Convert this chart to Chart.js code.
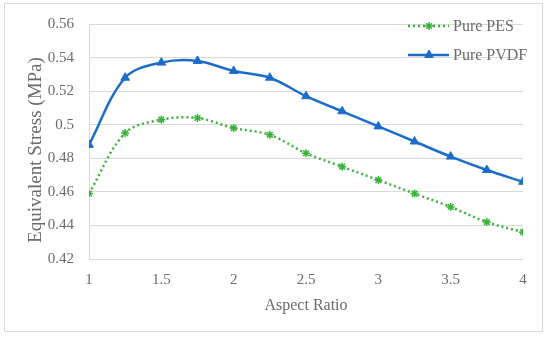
<!DOCTYPE html>
<html>
<head>
<meta charset="utf-8">
<script src="https://cdn.jsdelivr.net/npm/chart.js@4.4.0/dist/chart.umd.min.js"></script>
<style>
  html, body { margin: 0; padding: 0; background: #fff; }
  #wrap { position: relative; width: 550px; height: 339px; }
  #frame { position: absolute; left: 4px; top: 3px; width: 539px; height: 329px; border: 1px solid #d9d9d9; box-sizing: border-box; }
</style>
</head>
<body>
<div id="wrap">
  <div id="frame"></div>
  <canvas id="chart" width="550" height="339"></canvas>
</div>
<script>
// ------------------- DATA -------------------
const aspectRatio = [1, 1.25, 1.5, 1.75, 2, 2.25, 2.5, 2.75, 3, 3.25, 3.5, 3.75, 4];
const purePES  = [0.459, 0.495, 0.503, 0.504, 0.498, 0.494, 0.483, 0.475, 0.467, 0.459, 0.451, 0.442, 0.436];
const purePVDF = [0.488, 0.528, 0.537, 0.538, 0.532, 0.528, 0.517, 0.508, 0.499, 0.490, 0.481, 0.473, 0.466];
const seriesNames = ["Pure PES", "Pure PVDF"];
const yTitle = "Equivalent Stress (MPa)";
const xTitle = "Aspect Ratio";

const GREEN = "#3bb33b";
const BLUE = "#1c6dc9";
const TEXT = "#6b6b6b";
const FONT = "'Liberation Serif', 'DejaVu Serif', serif";

function toPoints(ys) {
    return aspectRatio.map((x, i) => ({ x: x, y: ys[i] }));
}

// ------------------- LEGEND + Y TITLE -------------------
const extras = {
    id: "extras",
    afterDraw(chart) {
        const ctx = chart.ctx;

        // y axis title, a bit below the plot centre like the original
        ctx.save();
        ctx.translate(36, 150);
        ctx.rotate(-Math.PI / 2);
        ctx.fillStyle = TEXT;
        ctx.font = "19px " + FONT;
        ctx.textAlign = "center";
        ctx.textBaseline = "middle";
        ctx.fillText(yTitle, 0, 0);
        ctx.restore();

        const rows = [26, 55];
        chart.data.datasets.forEach((ds, i) => {
            const y = rows[i];
            ctx.save();
            ctx.strokeStyle = ds.borderColor;
            ctx.fillStyle = ds.backgroundColor;
            ctx.lineWidth = ds.borderWidth;
            ctx.setLineDash(ds.borderDash || []);
            ctx.beginPath();
            ctx.moveTo(408, y);
            ctx.lineTo(449, y);
            ctx.stroke();
            ctx.setLineDash([]);
            ctx.lineWidth = ds.pointBorderWidth;
            Chart.helpers.drawPoint(ctx, {
                pointStyle: ds.pointStyle,
                radius: ds.pointRadius,
                borderWidth: ds.pointBorderWidth,
                rotation: 0
            }, 429, y);
            ctx.fillStyle = TEXT;
            ctx.font = "16px " + FONT;
            ctx.textBaseline = "middle";
            ctx.fillText(ds.label, 453, y + 1);
            ctx.restore();
        });
    }
};

// ------------------- CHART -------------------
new Chart(document.getElementById("chart"), {
    type: "line",
    data: {
        datasets: [
            {
                label: seriesNames[0],
                data: toPoints(purePES),
                borderColor: GREEN,
                backgroundColor: GREEN,
                borderWidth: 2.5,
                borderDash: [2, 3],
                pointStyle: "star",
                pointRadius: 4,
                pointBorderWidth: 1.5,
                tension: 0.35
            },
            {
                label: seriesNames[1],
                data: toPoints(purePVDF),
                borderColor: BLUE,
                backgroundColor: BLUE,
                borderWidth: 2.5,
                pointStyle: "triangle",
                pointRadius: 5,
                pointBorderWidth: 1,
                tension: 0.35
            }
        ]
    },
    options: {
        responsive: false,
        animation: false,
        layout: { padding: { top: 22, right: 27, left: 0, bottom: 24 } },
        plugins: {
            legend: { display: false },
            tooltip: { enabled: false }
        },
        scales: {
            x: {
                type: "linear",
                min: 1,
                max: 4,
                ticks: {
                    stepSize: 0.5,
                    color: TEXT,
                    font: { family: FONT, size: 15 },
                    padding: 12,
                    callback: v => String(v)
                },
                grid: { display: false, drawTicks: false },
                border: { display: false },
                title: {
                    display: true,
                    text: xTitle,
                    color: TEXT,
                    font: { family: FONT, size: 16 },
                    padding: { top: 4, bottom: 0 }
                },
                afterFit(scale) { scale.height = 56; }
            },
            y: {
                min: 0.42,
                max: 0.56,
                ticks: {
                    stepSize: 0.02,
                    color: TEXT,
                    font: { family: FONT, size: 15 },
                    padding: 15,
                    callback: v => String(Math.round(v * 100) / 100)
                },
                grid: { color: "#d9d9d9", lineWidth: 1, drawTicks: false },
                border: { display: true, color: "#d9d9d9", width: 1 },
                afterFit(scale) { scale.width = 89; }
            }
        }
    },
    plugins: [extras]
});
</script>
</body>
</html>
